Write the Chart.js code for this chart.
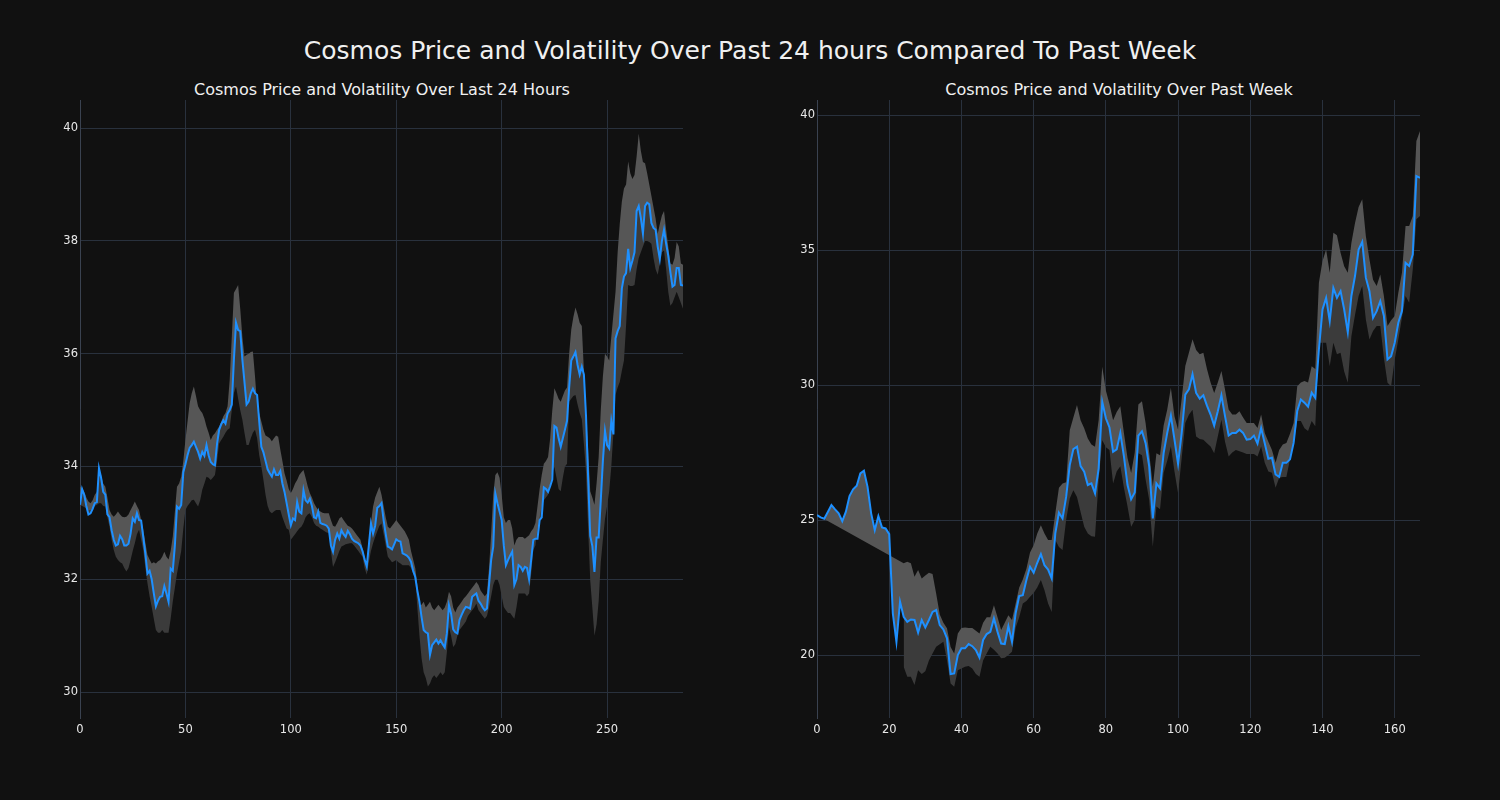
<!DOCTYPE html>
<html>
<head>
<meta charset="utf-8">
<script src="https://cdn.jsdelivr.net/npm/chart.js@4.4.1/dist/chart.umd.min.js"></script>
<style>
  html, body { margin:0; padding:0; background:#111111; }
  body { width:1500px; height:800px; position:relative; overflow:hidden; font-family:"DejaVu Sans", sans-serif; }
  .t { position:absolute; color:#f0f0f0; white-space:nowrap; transform:translate(-50%,-50%); }
  canvas { position:absolute; top:0; }
</style>
</head>
<body>
<div class="t" style="left:750px; top:50px; font-size:25px;">Cosmos Price and Volatility Over Past 24 hours Compared To Past Week</div>
<div class="t" style="left:382px; top:89px; font-size:16px;">Cosmos Price and Volatility Over Last 24 Hours</div>
<div class="t" style="left:1119px; top:89px; font-size:16px;">Cosmos Price and Volatility Over Past Week</div>
<canvas id="c1" width="750" height="800" style="left:0px"></canvas>
<canvas id="c2" width="750" height="800" style="left:750px"></canvas>
<script>
// ---- Last 24 hours (5-minute steps) ----
const price24 = [
33.32,33.6,33.5,33.3,33.15,33.17,33.25,33.35,33.37,33.97,
33.8,33.55,33.5,33.15,33.1,32.87,32.7,32.6,32.62,32.77,
32.71,32.6,32.6,32.63,32.81,33.08,33.02,33.17,33.05,33.04,
32.75,32.45,32.1,32.15,32.0,31.75,31.52,31.62,31.69,31.7,
31.88,31.75,31.6,32.19,32.15,32.6,33.29,33.25,33.32,33.9,
34.04,34.2,34.33,34.38,34.44,34.35,34.26,34.14,34.26,34.19,
34.38,34.2,34.08,34.04,34.02,34.4,34.65,34.75,34.82,34.76,
34.94,35.0,35.1,35.9,36.55,36.42,36.4,35.9,35.5,35.1,
35.15,35.3,35.38,35.3,35.27,34.8,34.35,34.25,34.1,33.95,
33.88,33.82,33.95,33.85,33.85,33.92,33.7,33.55,33.35,33.15,
32.96,33.08,33.05,33.37,33.2,33.17,33.58,33.4,33.36,33.43,
33.3,33.1,33.08,33.2,33.0,32.98,32.97,32.95,32.9,32.6,
32.49,32.7,32.81,32.72,32.87,32.8,32.75,32.86,32.8,32.72,
32.68,32.66,32.64,32.6,32.5,32.35,32.23,32.6,32.99,32.81,
32.95,33.27,33.3,33.35,33.05,32.8,32.58,32.56,32.53,32.62,
32.71,32.68,32.67,32.46,32.44,32.42,32.38,32.31,32.15,32.04,
31.8,31.6,31.33,31.1,31.06,31.04,30.66,30.83,30.88,30.93,
30.86,30.92,30.85,30.79,31.04,31.54,31.39,31.11,31.06,31.04,
31.28,31.37,31.45,31.51,31.5,31.48,31.69,31.72,31.75,31.62,
31.57,31.5,31.45,31.48,31.9,32.34,32.58,33.52,33.35,33.2,
33.05,32.6,32.25,32.34,32.42,32.49,31.9,32.0,32.25,32.22,
32.15,32.22,32.2,32.0,32.35,32.7,32.72,32.72,33.05,33.1,
33.63,33.6,33.55,33.65,33.77,34.72,34.69,34.5,34.35,34.5,
34.65,34.81,35.4,35.88,35.95,36.03,35.8,35.63,35.77,35.63,
34.9,33.8,32.77,32.59,32.13,32.74,32.74,33.4,34.1,34.63,
34.38,34.32,34.81,34.57,36.27,36.4,36.49,37.16,37.37,37.43,
37.86,37.52,37.65,37.8,38.53,38.62,38.41,38.13,38.62,38.68,
38.65,38.32,38.23,38.2,37.9,37.68,38.0,38.2,37.95,37.74,
37.45,37.19,37.22,37.52,37.52,37.22,37.21
];
const upper24 = [
33.64,33.62,33.55,33.45,33.38,33.35,33.4,33.5,33.55,33.94,
33.85,33.7,33.64,33.45,33.23,33.15,33.11,33.15,33.2,33.15,
33.11,33.1,33.11,33.15,33.23,33.3,33.38,33.3,33.23,33.05,
32.88,32.65,32.43,32.35,32.28,32.3,32.28,32.32,32.34,32.4,
32.49,32.4,32.35,32.5,32.76,33.2,33.64,33.7,33.82,34.1,
34.47,34.8,35.12,35.3,35.42,35.25,35.07,35.0,34.95,34.85,
34.71,34.6,34.47,34.55,34.59,34.65,34.71,34.8,34.89,34.95,
35.07,35.54,36.3,37.08,37.15,37.22,36.8,36.3,35.95,35.98,
36.0,36.03,36.04,35.6,35.1,34.95,34.8,34.65,34.55,34.53,
34.5,34.45,34.5,34.55,34.53,34.3,34.1,33.88,33.75,33.6,
33.53,33.6,33.7,33.76,33.85,33.9,33.94,33.8,33.65,33.53,
33.45,33.35,33.28,33.23,33.2,33.18,33.17,33.17,33.17,33.05,
32.95,32.93,33.0,33.08,33.11,33.05,33.0,32.95,32.93,32.9,
32.85,32.8,32.75,32.7,32.55,32.4,32.28,32.7,33.0,33.29,
33.45,33.55,33.64,33.5,33.3,33.1,32.93,32.9,32.95,33.0,
33.05,33.0,32.95,32.9,32.85,32.78,32.7,32.5,32.35,32.2,
31.9,31.54,31.55,31.6,31.5,31.55,31.6,31.5,31.45,31.5,
31.55,31.5,31.45,31.5,31.6,31.78,31.7,31.5,31.41,31.5,
31.55,31.6,31.66,31.7,31.75,31.8,31.85,31.9,31.95,31.9,
31.8,31.75,31.7,31.75,32.2,32.8,33.5,33.85,33.9,33.8,
33.5,33.1,33.0,33.05,33.05,32.9,32.6,32.7,32.75,32.75,
32.75,32.72,32.75,32.78,32.85,32.9,33.0,33.3,33.6,33.85,
34.05,34.1,34.17,34.5,35.0,35.39,35.3,35.2,35.15,35.25,
35.35,35.4,36.0,36.43,36.65,36.82,36.7,36.55,36.49,35.7,
34.96,34.3,33.56,33.45,33.32,33.7,34.17,35.0,35.6,36.0,
35.95,35.88,36.3,36.7,37.1,37.8,38.3,38.7,38.93,39.0,
39.41,39.2,39.1,39.17,39.5,39.9,39.6,39.4,39.38,39.2,
39.0,38.8,38.6,38.4,38.13,38.3,38.45,38.53,38.2,37.9,
37.6,37.58,37.7,37.98,37.9,37.6,37.58
];
const lower24 = [
33.32,33.3,33.28,33.25,33.23,33.23,33.25,33.3,33.32,33.35,
33.35,33.3,33.29,33.1,32.93,32.7,32.52,32.4,32.34,32.3,
32.28,32.2,32.14,32.2,32.34,32.5,32.64,32.8,32.88,32.7,
32.52,32.2,31.93,31.7,31.51,31.3,31.1,31.05,31.05,31.1,
31.05,31.05,31.05,31.3,31.6,31.85,32.1,32.3,32.5,32.9,
33.23,33.3,33.35,33.4,33.41,33.35,33.29,33.4,33.59,33.7,
33.82,33.8,33.76,33.8,33.85,34.1,34.41,34.47,34.53,34.6,
34.65,34.68,35.0,35.3,35.42,35.2,35.0,34.83,34.6,34.38,
34.38,34.5,34.6,34.65,34.5,34.2,34.0,33.76,33.5,33.3,
33.2,33.17,33.2,33.23,33.23,33.23,33.1,33.0,32.9,32.88,
32.7,32.75,32.8,32.85,32.9,32.93,33.0,33.1,33.15,33.17,
33.1,33.0,32.95,32.93,32.9,32.88,32.85,32.83,32.82,32.5,
32.22,32.3,32.4,32.5,32.58,32.6,32.62,32.63,32.64,32.64,
32.6,32.55,32.5,32.45,32.4,32.2,32.08,32.3,32.5,32.64,
32.75,32.85,32.95,32.99,32.8,32.6,32.4,32.35,32.3,32.32,
32.34,32.3,32.28,32.25,32.25,32.25,32.25,32.2,32.1,32.04,
31.5,31.0,30.6,30.35,30.25,30.1,30.15,30.25,30.3,30.25,
30.3,30.35,30.3,30.35,30.7,31.15,31.0,30.8,30.85,31.0,
31.1,31.15,31.2,31.25,31.35,31.4,31.45,31.5,31.57,31.45,
31.4,31.35,31.3,31.35,31.5,31.7,31.9,32.0,32.0,31.9,
31.7,31.51,31.45,31.4,31.4,31.35,31.3,31.5,31.75,31.75,
31.75,31.75,31.7,31.75,32.1,32.52,32.6,32.9,33.1,33.3,
33.4,33.45,33.5,33.7,33.9,33.99,33.8,33.6,33.56,33.8,
34.0,34.05,35.15,35.2,35.25,35.27,35.1,34.95,34.84,34.4,
33.9,32.9,31.98,31.5,31.0,31.2,31.61,32.3,32.7,33.07,
33.3,33.56,34.0,34.6,35.27,35.4,35.5,35.7,35.88,36.5,
37.22,37.2,37.2,37.22,37.5,37.7,37.8,37.9,38.0,38.0,
37.98,37.95,37.7,37.5,37.4,37.6,37.8,37.83,37.5,37.1,
36.85,36.9,37.0,37.1,37.0,36.9,36.8
];
const xTicks24 = [0, 50, 100, 150, 200, 250];
const yTicks24 = [30, 32, 34, 36, 38, 40];

// ---- Past week (hourly steps) ----
const priceWeek = [
25.19,25.1,25.05,25.3,25.56,25.4,25.25,24.96,25.31,25.89,
26.14,26.27,26.73,26.83,26.23,25.25,24.63,25.15,24.73,24.69,
24.48,21.54,20.49,21.98,21.42,21.23,21.32,21.3,20.83,21.3,
21.02,21.3,21.6,21.67,21.11,20.95,20.62,19.3,19.32,20.0,
20.25,20.25,20.41,20.33,20.19,19.91,20.56,20.78,20.86,21.36,
20.86,20.43,20.41,21.07,20.49,21.54,22.19,22.22,22.78,23.27,
23.05,23.42,23.74,23.33,23.17,22.84,24.51,25.27,25.06,25.86,
27.04,27.63,27.72,27.0,26.79,26.3,26.36,25.99,26.91,29.38,
28.77,28.43,27.53,27.62,28.23,27.36,26.3,25.77,26.02,28.13,
28.29,27.85,26.99,25.06,26.36,26.18,27.48,28.23,28.87,27.98,
27.08,28.23,29.65,29.84,30.4,29.71,29.5,29.62,29.24,28.91,
28.5,29.03,29.62,28.85,28.13,28.23,28.23,28.35,28.23,27.98,
28.0,28.13,27.83,28.41,27.85,27.27,27.31,26.69,26.6,27.12,
27.12,27.25,27.86,29.04,29.47,29.35,29.2,29.72,29.53,31.32,
32.8,33.23,32.37,33.6,33.23,33.48,32.8,31.96,33.3,34.04,
35.02,35.3,33.98,33.48,32.49,32.74,33.11,32.56,30.95,31.07,
31.57,32.31,32.74,34.53,34.41,34.84,37.74,37.68
];
const upperWeek = [
25.19,null,null,null,null,null,null,null,null,null,
null,null,null,null,null,null,null,null,null,null,
null,null,null,null,23.4,23.46,23.4,22.9,23.15,22.84,
22.95,23.05,23.0,22.28,21.5,21.2,20.99,20.3,20.06,20.8,
21.0,21.02,21.0,21.0,20.9,20.8,21.2,21.4,21.4,21.85,
21.4,20.93,21.2,21.48,21.3,21.9,22.5,22.8,23.2,23.8,
24.07,24.5,24.81,24.5,24.26,24.26,25.25,26.2,26.36,26.4,
28.33,28.8,29.26,28.7,28.4,28.02,27.8,27.72,28.7,30.68,
29.8,29.3,28.7,29.0,29.22,28.23,27.3,26.74,27.5,29.28,
29.4,28.6,27.5,26.24,27.48,27.4,28.5,29.1,29.9,28.85,
28.35,29.5,30.71,31.2,31.7,31.3,31.14,31.2,30.6,30.1,
29.71,30.1,30.52,29.84,29.1,28.91,28.91,29.03,28.8,28.6,
28.6,28.6,28.41,28.91,28.23,27.9,27.6,27.12,27.6,27.8,
27.86,28.2,28.6,29.96,30.1,30.15,30.1,30.7,30.6,33.79,
34.6,35.02,34.16,35.64,35.55,34.9,34.4,34.16,35.27,36.0,
36.6,36.88,35.52,34.65,33.9,33.67,34.1,33.3,32.19,32.4,
32.56,33.42,34.16,35.89,35.89,36.26,39.04,39.41
];
const lowerWeek = [
null,null,null,null,null,null,null,null,null,null,
null,null,null,null,null,null,null,null,null,null,
null,null,null,null,19.57,19.2,19.2,18.89,19.44,19.3,
19.4,19.8,20.06,20.31,20.4,20.49,19.81,18.95,18.83,19.44,
19.5,19.57,19.6,19.5,19.3,19.2,19.8,20.06,20.31,20.2,
20.06,19.88,19.9,20.0,20.12,21.0,21.4,21.91,22.0,22.16,
22.3,22.5,22.78,22.4,21.91,21.6,24.26,24.0,23.89,25.0,
25.8,26.11,25.86,25.3,24.75,24.5,24.4,24.38,26.48,27.96,
27.7,27.6,26.36,26.8,26.99,26.2,25.5,24.75,25.0,27.48,
27.4,26.5,25.74,24.01,25.5,25.4,26.74,27.2,27.73,26.8,
25.99,27.3,28.6,28.9,29.09,28.1,28.0,27.98,27.85,27.73,
27.48,28.1,28.72,27.9,27.36,27.5,27.6,27.55,27.5,27.45,
27.45,27.45,27.36,27.73,27.12,26.8,26.75,26.2,26.57,26.6,
26.6,27.25,27.8,28.67,28.67,28.4,28.3,28.67,28.48,31.57,
31.57,31.57,30.7,31.57,31.14,31.2,30.5,30.09,31.81,32.6,
33.3,33.67,32.43,31.69,32.0,32.19,32.19,31.0,30.09,29.96,
30.95,31.69,32.5,33.3,33.05,34.28,36.14,36.26
];
const xTicksWeek = [0, 20, 40, 60, 80, 100, 120, 140, 160];
const yTicksWeek = [20, 25, 30, 35, 40];

const LINE = '#1e90ff';
const BAND_HI = '#565656';
const BAND_LO = '#3b3b3b';
const GRID = '#29313d';
const TICK = '#e8e8e8';

function makeChart(id, price, upper, lower, xTicks, yTicks, yMin, yMax, yAxisW, padRight) {
  const idx = price.map((_, i) => i);
  return new Chart(document.getElementById(id), {
    type: 'line',
    data: {
      labels: idx,
      datasets: [
        { data: price, borderColor: LINE, borderWidth: 2, pointRadius: 0, fill: false, order: 0, tension: 0 },
        { data: upper, borderWidth: 0, borderColor: 'rgba(0,0,0,0)', pointRadius: 0, spanGaps: true, order: 2,
          fill: { target: 0, above: BAND_HI, below: BAND_HI }, backgroundColor: BAND_HI },
        { data: lower, borderWidth: 0, borderColor: 'rgba(0,0,0,0)', pointRadius: 0, spanGaps: false, order: 1,
          fill: { target: 0, above: BAND_LO, below: BAND_LO }, backgroundColor: BAND_LO }
      ]
    },
    options: {
      responsive: false,
      animation: false,
      events: [],
      layout: { padding: { top: 100, left: 0, right: padRight, bottom: 0 } },
      plugins: { legend: { display: false }, title: { display: false }, tooltip: { enabled: false } },
      scales: {
        x: {
          type: 'linear', min: 0, max: price.length - 1,
          afterFit: s => { s.height = 82; },
          afterBuildTicks: s => { s.ticks = xTicks.map(v => ({ value: v })); },
          ticks: { color: TICK, font: { family: 'DejaVu Sans', size: 11.5 }, padding: 5, maxRotation: 0 },
          grid: { color: GRID, lineWidth: 1, drawTicks: false },
          border: { display: false }
        },
        y: {
          type: 'linear', min: yMin, max: yMax,
          afterFit: s => { s.width = yAxisW; },
          afterBuildTicks: s => { s.ticks = yTicks.map(v => ({ value: v })); },
          ticks: { color: TICK, font: { family: 'DejaVu Sans', size: 11.5 }, padding: 2 },
          grid: { color: GRID, lineWidth: 1, drawTicks: false },
          border: { display: true, color: '#3a4250', width: 1 }
        }
      }
    }
  });
}

makeChart('c1', price24, upper24, lower24, xTicks24, yTicks24, 29.54, 40.5, 80, 67);
makeChart('c2', priceWeek, upperWeek, lowerWeek, xTicksWeek, yTicksWeek, 17.67, 40.56, 67, 80);
</script>
</body>
</html>
